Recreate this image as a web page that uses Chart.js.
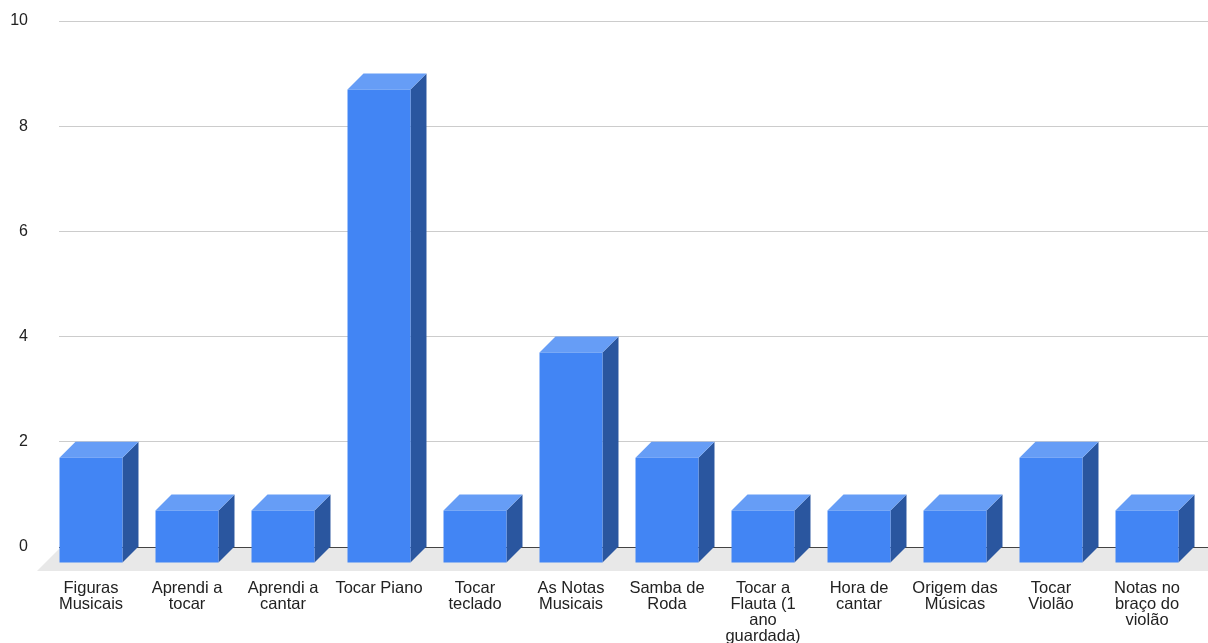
<!DOCTYPE html>
<html lang="pt">
<head>
<meta charset="utf-8">
<title>Atividades</title>
<script src="https://cdn.jsdelivr.net/npm/chart.js@4/dist/chart.umd.min.js"></script>
<style>
  html, body { margin: 0; padding: 0; background: #fff; overflow: hidden; }
  #wrap { width: 1211px; height: 643px; position: relative; }
</style>
</head>
<body>
<div id="wrap"><canvas id="chart"></canvas></div>
<script>
// Categories (multi-line labels) and counts
const categories = [
  ["Figuras", "Musicais"],
  ["Aprendi a", "tocar"],
  ["Aprendi a", "cantar"],
  ["Tocar Piano"],
  ["Tocar", "teclado"],
  ["As Notas", "Musicais"],
  ["Samba de", "Roda"],
  ["Tocar a", "Flauta (1", "ano", "guardada)"],
  ["Hora de", "cantar"],
  ["Origem das", "Músicas"],
  ["Tocar", "Violão"],
  ["Notas no", "braço do", "violão"]
];
const counts = [2, 1, 1, 9, 1, 4, 2, 1, 1, 1, 2, 1];
const yTicks = [0, 2, 4, 6, 8, 10];

// 3D look
const DEPTH = 16;
const FLOOR = 23;
const FRONT = "#4285f4";
const TOP = "#669df6";
const SIDE = "#2a569f";
const FLOOR_COLOR = "#e8e8e8";

function poly(ctx, pts, color) {
  ctx.beginPath();
  ctx.moveTo(pts[0][0], pts[0][1]);
  for (let i = 1; i < pts.length; i++) ctx.lineTo(pts[i][0], pts[i][1]);
  ctx.closePath();
  ctx.fillStyle = color;
  ctx.fill();
}

const bars3d = {
  id: "bars3d",
  beforeDatasetsDraw(chart) {
    // grey floor under the zero line
    const { ctx, chartArea } = chart;
    const y0 = chart.scales.y.getPixelForValue(0) + 1;
    const l = chartArea.left + 1, r = chartArea.right + FLOOR;
    ctx.save();
    poly(ctx, [[l, y0], [r, y0], [r - FLOOR, y0 + FLOOR], [l - FLOOR, y0 + FLOOR]], FLOOR_COLOR);
    ctx.restore();
  },
  afterDatasetsDraw(chart) {
    const ctx = chart.ctx;
    const meta = chart.getDatasetMeta(0);
    ctx.save();
    meta.data.forEach(bar => {
      const { x, y, base, width } = bar.getProps(["x", "y", "base", "width"], true);
      const bl = x - width / 2, br = x + width / 2;
      const fl = bl - DEPTH, fr = br - DEPTH;
      const ft = y + DEPTH, fb = base + DEPTH;
      // side face
      poly(ctx, [[fr, ft], [br, y], [br, base], [fr, fb]], SIDE);
      // top face
      poly(ctx, [[fl, ft], [fr, ft], [br, y], [bl, y]], TOP);
      // front face
      poly(ctx, [[fl, ft], [fr, ft], [fr, fb], [fl, fb]], FRONT);
    });
    ctx.restore();
  }
};

function noPadding(scale) {
  scale.paddingTop = 0;
  scale.paddingBottom = 0;
  scale.paddingLeft = 0;
  scale.paddingRight = 0;
}

Chart.defaults.font.family = "'Liberation Sans', Arial, sans-serif";
Chart.defaults.font.size = 16;
Chart.defaults.color = "#222";

new Chart(document.getElementById("chart"), {
  type: "bar",
  data: {
    labels: categories,
    datasets: [{
      data: counts,
      backgroundColor: "rgba(0,0,0,0)",
      borderWidth: 0,
      categoryPercentage: 1,
      barPercentage: 0.656
    }]
  },
  plugins: [bars3d],
  options: {
    responsive: true,
    maintainAspectRatio: false,
    animation: false,
    layout: { padding: { top: 21, right: 0, left: 0, bottom: 0 } },
    plugins: { legend: { display: false }, tooltip: { enabled: false } },
    scales: {
      x: {
        grid: { display: false, drawTicks: false },
        border: { display: false },
        ticks: {
          padding: 33,
          labelOffset: -DEPTH,
          maxRotation: 0,
          autoSkip: false,
          font: { size: 16.5, lineHeight: 0.97 }
        },
        afterFit(scale) { scale.height = 96; noPadding(scale); }
      },
      y: {
        min: yTicks[0],
        max: yTicks[yTicks.length - 1],
        afterBuildTicks(scale) { scale.ticks = yTicks.map(v => ({ value: v })); },
        grid: {
          drawTicks: false,
          color: ctx => ctx.tick && ctx.tick.value === 0 ? "#444" : "#cccccc",
          lineWidth: 1
        },
        border: { display: false },
        ticks: { padding: 31, font: { size: 16 } },
        afterFit(scale) { scale.width = 59; noPadding(scale); }
      }
    }
  }
});
</script>
</body>
</html>
